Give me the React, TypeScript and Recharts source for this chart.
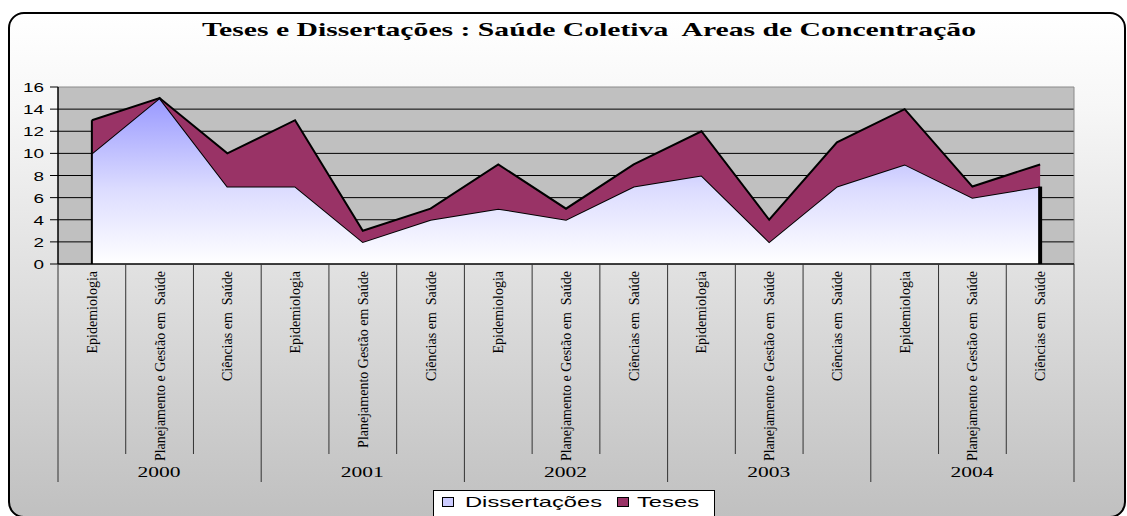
import { AreaChart, Area, XAxis, YAxis, CartesianGrid, Legend, ReferenceLine } from "recharts";

const years = ["2000", "2001", "2002", "2003", "2004"];
const areas = [
  "Epidemiologia", "Planejamento e Gestão em  Saúde", "Ciências em  Saúde",
  "Epidemiologia", "Planejamento Gestão em Saúde", "Ciências em  Saúde",
  "Epidemiologia", "Planejamento e Gestão em  Saúde", "Ciências em  Saúde",
  "Epidemiologia", "Planejamento e Gestão em  Saúde", "Ciências em  Saúde",
  "Epidemiologia", "Planejamento e Gestão em  Saúde", "Ciências em  Saúde",
];
const dissertacoes = [10, 15, 7, 7, 2, 4, 5, 4, 7, 8, 2, 7, 9, 6, 7];
const teses = [3, 0, 3, 6, 1, 1, 4, 1, 2, 4, 2, 4, 5, 1, 2];
const yTicks = [0, 2, 4, 6, 8, 10, 12, 14, 16];

const data = areas.map((area, i) => ({
  id: `${years[Math.floor(i / 3)]}-${i}`,
  area,
  dissertacoes: dissertacoes[i],
  teses: teses[i],
}));

const W = 1127;
const H = 516;
const PLOT_LEFT = 58;
const PLOT_RIGHT = 1074;
const STEP = (PLOT_RIGHT - PLOT_LEFT) / areas.length;
const SERIF = "'Liberation Serif', 'Times New Roman', serif";
const SANS = "'Liberation Sans', Arial, sans-serif";

function CategoryTick(props: any) {
  const { x, y, index } = props;
  const left = x - STEP / 2;
  const last = index === areas.length - 1;
  return (
    <g>
      <line x1={left} x2={left} y1={y} y2={index % 3 === 0 ? 482 : 454} stroke="#333" />
      {last && <line x1={x + STEP / 2} x2={x + STEP / 2} y1={y} y2={482} stroke="#333" />}
      <text
        transform={`translate(${x + 5},${y + 7}) rotate(-90)`}
        textAnchor="end"
        fontFamily={SERIF}
        fontSize={14}
        fill="#000"
        style={{ whiteSpace: "pre" }}
      >
        {areas[index]}
      </text>
      {index % 3 === 1 && (
        <text
          x={x - 22}
          y={y + 213}
          textLength={43}
          lengthAdjust="spacingAndGlyphs"
          fontFamily={SERIF}
          fontSize={15}
          fill="#000"
        >
          {years[Math.floor(index / 3)]}
        </text>
      )}
    </g>
  );
}

function ValueTick(props: any) {
  const { x, y, payload } = props;
  const label = String(payload.value);
  return (
    <text
      x={x}
      y={y + 5}
      textAnchor="end"
      textLength={label.length * 10.5}
      lengthAdjust="spacingAndGlyphs"
      fontFamily={SANS}
      fontSize={13}
      fill="#000"
    >
      {label}
    </text>
  );
}

function LegendBox() {
  return (
    <svg width={282} height={30} style={{ display: "block" }}>
      <rect x={0.5} y={4.5} width={281} height={30} fill="#fff" stroke="#000" />
      <rect x={9.5} y={11.5} width={11} height={9} fill="#ccccff" stroke="#000" />
      <text x={32} y={21} textLength={137} lengthAdjust="spacingAndGlyphs" fontFamily={SANS} fontSize={15} fill="#000">
        Dissertações
      </text>
      <rect x={184.5} y={11.5} width={11} height={9} fill="#993366" stroke="#000" />
      <text x={204} y={21} textLength={62} lengthAdjust="spacingAndGlyphs" fontFamily={SANS} fontSize={15} fill="#000">
        Teses
      </text>
    </svg>
  );
}

export default function App() {
  return (
    <div style={{ position: "absolute", left: 0, top: 0, width: W, height: H, overflow: "hidden" }}>
      <div
        style={{
          position: "absolute",
          left: 8,
          top: 12,
          width: 1118,
          height: 506,
          boxSizing: "border-box",
          border: "2px solid #000",
          borderRadius: 16,
          background: "linear-gradient(to bottom, #ffffff 0%, #f7f7f7 18%, #c0c0c0 100%)",
        }}
      />
      <svg width={W} height={50} style={{ position: "absolute", left: 0, top: 0 }}>
        <text
          x={202}
          y={36}
          textLength={774}
          lengthAdjust="spacingAndGlyphs"
          fontFamily={SERIF}
          fontWeight="bold"
          fontSize={19.5}
          fill="#000"
          style={{ whiteSpace: "pre" }}
        >
          Teses e Dissertações : Saúde Coletiva  Areas de Concentração
        </text>
      </svg>
      <div style={{ position: "absolute", left: 0, top: 0 }}>
        <AreaChart width={W} height={H} data={data} margin={{ top: 87, right: W - PLOT_RIGHT, left: 0, bottom: 0 }}>
          <defs>
            <linearGradient id="dissGrad" x1="0" y1="0" x2="0" y2="1">
              <stop offset="0%" stopColor="#9999ff" />
              <stop offset="55%" stopColor="#dcdcff" />
              <stop offset="100%" stopColor="#ffffff" />
            </linearGradient>
          </defs>
          <CartesianGrid fill="#c0c0c0" fillOpacity={1} stroke="#000" vertical={false} horizontalValues={yTicks.slice(1, -1)} />
          <CartesianGrid
            stroke="#8a8a8a"
            horizontalValues={[yTicks[yTicks.length - 1]]}
            verticalCoordinatesGenerator={({ offset }: any) => [offset.left + offset.width]}
          />
          <XAxis
            dataKey="id"
            type="category"
            interval={0}
            padding={{ left: STEP / 2, right: STEP / 2 }}
            height={222}
            tickLine={false}
            tickSize={0}
            tickMargin={0}
            axisLine={{ stroke: "#000", strokeWidth: 1.5 }}
            tick={<CategoryTick />}
          />
          <YAxis
            domain={[0, 16]}
            ticks={yTicks}
            interval={0}
            width={PLOT_LEFT}
            tickSize={8}
            tickMargin={6}
            tickLine={{ stroke: "#000" }}
            axisLine={{ stroke: "#000", strokeWidth: 1.5 }}
            tick={<ValueTick />}
          />
          <Legend
            verticalAlign="bottom"
            wrapperStyle={{ left: 433, width: 282 }}
            content={() => <LegendBox />}
          />
          <Area
            type="linear"
            dataKey="dissertacoes"
            name="Dissertações"
            stackId="1"
            stroke="#000"
            strokeWidth={2}
            fill="url(#dissGrad)"
            fillOpacity={1}
            isAnimationActive={false}
          />
          <Area
            type="linear"
            dataKey="teses"
            name="Teses"
            stackId="1"
            stroke="#000"
            strokeWidth={2}
            fill="#993366"
            fillOpacity={1}
            isAnimationActive={false}
          />
          <ReferenceLine
            segment={[
              { x: data[0].id, y: 0 },
              { x: data[0].id, y: dissertacoes[0] + teses[0] },
            ]}
            stroke="#000"
            strokeWidth={2}
          />
          <ReferenceLine
            segment={[
              { x: data[data.length - 1].id, y: 0 },
              { x: data[data.length - 1].id, y: dissertacoes[dissertacoes.length - 1] },
            ]}
            stroke="#000"
            strokeWidth={4}
          />
        </AreaChart>
      </div>
    </div>
  );
}
